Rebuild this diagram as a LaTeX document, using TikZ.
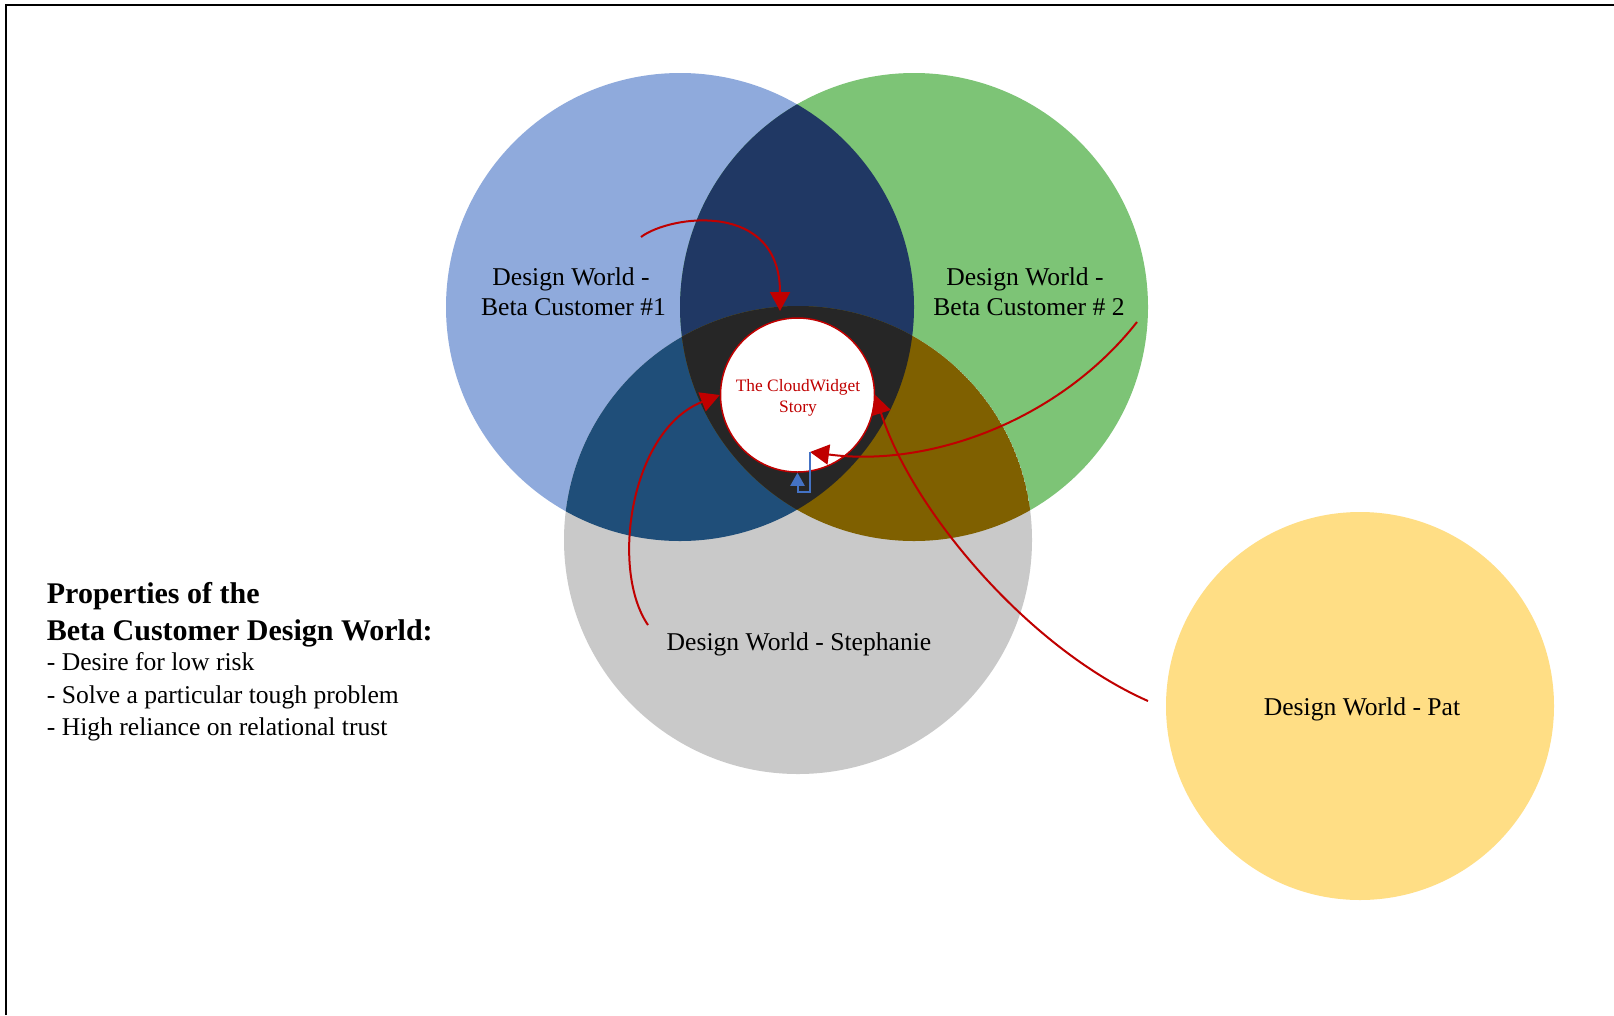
\documentclass[tikz,border=0pt]{standalone}
\usepackage{fontspec}
\setmainfont{Liberation Serif}
\usetikzlibrary{arrows.meta}
\definecolor{cblue}{HTML}{8FAADC}
\definecolor{cgreen}{HTML}{7DC476}
\definecolor{cgray}{HTML}{C9C9C9}
\definecolor{cyellow}{HTML}{FFDE85}
\definecolor{cnavy}{HTML}{203864}
\definecolor{cbluegray}{HTML}{1F4E79}
\definecolor{colive}{HTML}{7F6000}
\definecolor{cdark}{HTML}{262626}
\definecolor{cred}{HTML}{C00000}
\definecolor{cline}{HTML}{4472C4}
\tikzset{
  lbl/.style={inner sep=0pt, anchor=base, font=\fontsize{25.6}{30}\selectfont},
  boldtxt/.style={inner sep=0pt, anchor=base west, font=\fontsize{30}{36}\selectfont\bfseries},
  plaintxt/.style={inner sep=0pt, anchor=base west, font=\fontsize{25.6}{30}\selectfont},
  story/.style={circle, minimum size=154pt, inner sep=0pt, draw=cred, line width=1.5pt, fill=white},
  storytxt/.style={inner sep=0pt, text=cred, align=center, font=\fontsize{17.4}{20.5}\selectfont},
  redarrow/.style={draw=cred, line width=2pt, -{Triangle[width=20pt,length=19pt]}},
  bluearrow/.style={draw=cline, line width=2pt, -{Triangle[width=14pt,length=13pt]}},
}
\begin{document}
\begin{tikzpicture}[x=1pt,y=-1pt]
\useasboundingbox (0,0) rectangle (1614,1015);
\fill[white] (0,0) rectangle (1614,1015);
\draw[line width=2pt] (6,1015) -- (6,5) -- (1614,5);

\coordinate (B) at (680,307);
\coordinate (G) at (914,307);
\coordinate (S) at (798,540);
\def\R{234pt}

\fill[cblue] (B) circle[radius=\R];
\fill[cgreen] (G) circle[radius=\R];
\fill[cgray] (S) circle[radius=\R];
\begin{scope}
  \clip (B) circle[radius=\R];
  \fill[cnavy] (G) circle[radius=\R];
  \fill[cbluegray] (S) circle[radius=\R];
\end{scope}
\begin{scope}
  \clip (G) circle[radius=\R];
  \clip (S) circle[radius=\R];
  \fill[colive] (S) circle[radius=\R];
\end{scope}
\begin{scope}
  \clip (B) circle[radius=\R];
  \clip (G) circle[radius=\R];
  \fill[cdark] (S) circle[radius=\R];
\end{scope}

\fill[cyellow] (1360,706) circle[radius=194pt];

\node[lbl] (l1a) at (571,285) {Design World -};
\node[lbl] (l1b) at (573.5,315) {Beta Customer \#1};
\node[lbl] (l2a) at (1025,285) {Design World -};
\node[lbl] (l2b) at (1029,315) {Beta Customer \# 2};
\node[lbl] (l3) at (799,650) {Design World - Stephanie};
\node[lbl] (l4) at (1362,715) {Design World - Pat};

\node[story] (st) at (797.5,395) {};
\node[storytxt] (stt) at (798,398) {The CloudWidget\\Story};

\coordinate (a1s) at (641,237);
\coordinate (a1e) at (780,311);
\coordinate (a2s) at (648,625);
\coordinate (a3s) at (1137,322);
\coordinate (a3e) at (810,452);
\coordinate (a4s) at (1148,701);

\draw[redarrow] (a1s) .. controls (670,215) and (780,200) .. (a1e);
\draw[redarrow] (a2s) .. controls (610,570) and (630,430) .. (st.west);
\draw[redarrow] (a3s) .. controls (1060,420) and (930,468) .. (a3e);
\draw[redarrow] (a4s) .. controls (1028,648) and (912,510) .. (st.east);
\draw[bluearrow] (a3e) -- ++(0,40) -| (st.south);

\node[boldtxt] (p1) at (46.7,603) {Properties of the};
\node[boldtxt] (p2) at (46.7,640) {Beta Customer Design World:};
\node[plaintxt] (p3) at (46.7,670) {- Desire for low risk};
\node[plaintxt] (p4) at (46.7,703) {- Solve a particular tough problem};
\node[plaintxt] (p5) at (46.7,735) {- High reliance on relational trust};
\end{tikzpicture}
\end{document}
